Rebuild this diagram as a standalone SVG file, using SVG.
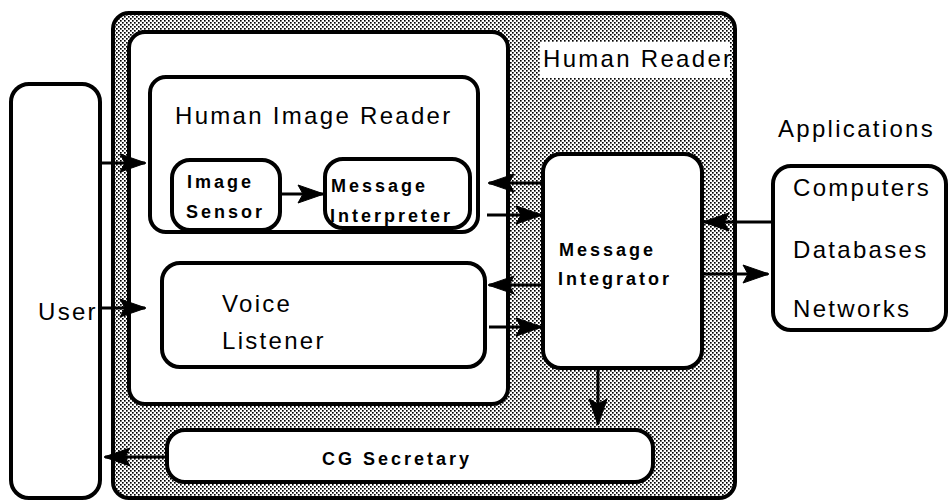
<svg xmlns="http://www.w3.org/2000/svg" width="948" height="501" viewBox="0 0 948 501">
<style>
.box{fill:#fff;stroke:#000;stroke-width:4}
.t{font-family:"Liberation Sans",Arial,sans-serif;font-size:24px;letter-spacing:2.3px;fill:#000}
.b{font-family:"Liberation Sans",Arial,sans-serif;font-size:18px;font-weight:bold;letter-spacing:3px;fill:#000}
.c{stroke:#000;stroke-width:3;fill:none;marker-end:url(#ah)}
</style>
<defs>
<pattern id="dots" width="4" height="4" patternUnits="userSpaceOnUse">
<rect width="4" height="4" fill="#fff"/>
<rect x="0" y="0" width="1.65" height="1.65" fill="#000"/>
<rect x="2" y="2" width="1.65" height="1.65" fill="#000"/>
</pattern>
<marker id="ah" markerUnits="userSpaceOnUse" markerWidth="32" markerHeight="24" viewBox="-29 -12 32 24" refX="0" refY="0" orient="auto">
<path d="M1,0 L-25,-9 L-20,0 L-25,9 Z" fill="#000" stroke="#000" stroke-width="1" stroke-linejoin="miter"/>
</marker>
</defs>
<g id="human-reader">
<rect x="113" y="13" width="622" height="485" rx="16" fill="url(#dots)" stroke="#000" stroke-width="4"/>
<rect x="540" y="42" width="190" height="36" fill="#fff"/>
<text class="t" x="543" y="67">Human Reader</text>
</g>
<g id="inner-reader">
<rect class="box" x="129" y="32" width="379" height="372" rx="16"/>
</g>
<g id="human-image-reader">
<rect class="box" x="150" y="77" width="328" height="155" rx="16"/>
<text class="t" x="175" y="124">Human Image Reader</text>
</g>
<g id="image-sensor">
<rect class="box" x="172" y="160" width="108" height="70" rx="18"/>
<text class="b" x="187" y="188">Image</text>
<text class="b" x="186" y="218">Sensor</text>
</g>
<g id="message-interpreter">
<rect class="box" x="325" y="159" width="145" height="69" rx="18"/>
<text class="b" x="331" y="192">Message</text>
<text class="b" x="330" y="222">Interpreter</text>
</g>
<g id="voice-listener">
<rect class="box" x="162" y="263" width="323" height="104" rx="18"/>
<text class="t" x="222" y="312">Voice</text>
<text class="t" x="222" y="349">Listener</text>
</g>
<g id="cg-secretary">
<rect class="box" x="167" y="430" width="486" height="52" rx="18"/>
<text class="b" x="322" y="465">CG Secretary</text>
</g>
<g id="message-integrator">
<rect class="box" x="543" y="154" width="159" height="214" rx="18"/>
<text class="b" x="559" y="256">Message</text>
<text class="b" x="558" y="285">Integrator</text>
</g>
<g id="user">
<rect class="box" x="11" y="84" width="89" height="414" rx="18"/>
<text class="t" x="38" y="320">User</text>
</g>
<g id="applications">
<text class="t" x="778" y="137">Applications</text>
<rect class="box" x="773" y="166" width="173" height="164" rx="18"/>
<text class="t" x="793" y="196">Computers</text>
<text class="t" x="793" y="258">Databases</text>
<text class="t" x="793" y="317">Networks</text>
</g>
<g id="connectors">
<line class="c" x1="100" y1="163" x2="145" y2="163"/>
<line class="c" x1="100" y1="308" x2="145" y2="308"/>
<line class="c" x1="280" y1="194" x2="323" y2="194"/>
<line class="c" x1="543" y1="183" x2="489" y2="183"/>
<line class="c" x1="487" y1="215" x2="541" y2="215"/>
<line class="c" x1="543" y1="285" x2="489" y2="285"/>
<line class="c" x1="489" y1="327" x2="541" y2="327"/>
<line class="c" x1="598" y1="368" x2="598" y2="424"/>
<line class="c" x1="167" y1="457" x2="105" y2="457"/>
<line class="c" x1="773" y1="222" x2="704" y2="222"/>
<line class="c" x1="702" y1="274" x2="768" y2="274"/>
</g>
</svg>
